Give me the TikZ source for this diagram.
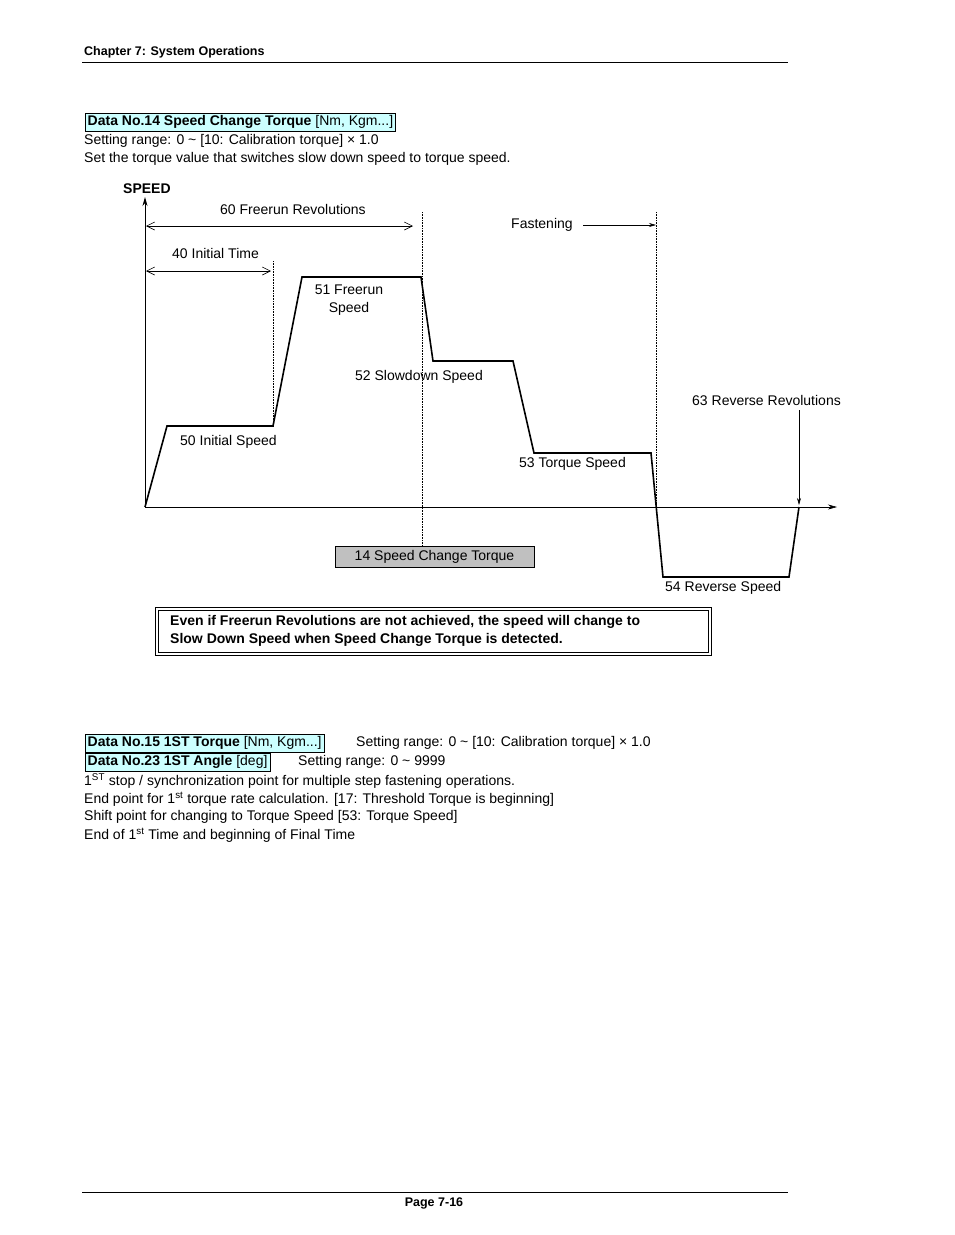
\documentclass[tikz,border=0pt]{standalone}
\usepackage{fontspec}
\setmainfont{Liberation Sans}
\usetikzlibrary{arrows.meta}
\definecolor{cyanbg}{RGB}{204,255,255}
\definecolor{graybg}{RGB}{192,192,192}
\tikzset{
 t/.style={anchor=west,inner sep=0pt,font=\fontsize{14}{16}\selectfont},
 tb/.style={t,font=\fontsize{14}{16}\selectfont\bfseries},
 hd/.style={anchor=west,inner sep=0pt,font=\fontsize{12.5}{14}\selectfont\bfseries},
 databox/.style={draw,fill=cyanbg,anchor=west,inner sep=2.5pt,font=\fontsize{14}{16}\selectfont},
 dot/.style={densely dotted,line width=0.6pt},
 dim/.style={line width=0.6pt,{Straight Barb[length=8pt,width=8pt]}-{Straight Barb[length=8pt,width=8pt]}},
 one/.style={line width=0.6pt,-{Stealth[length=7pt,width=4pt]}},
}
\begin{document}
\begin{tikzpicture}[x=1pt,y=-1pt]
\useasboundingbox (0,0) rectangle (954,1235);
\node[hd] (ch) at (84,52) {Chapter 7: System Operations};
\draw[line width=0.6pt] (82,62) -- (788,62);
\node[databox] (d14) at (85,122) {\textbf{Data No.14 Speed Change Torque} [Nm, Kgm...]};
\node[t] (s1) at (84,141) {Setting range: 0 \textasciitilde{} [10: Calibration torque] × 1.0};
\node[t] (s2) at (84,159) {Set the torque value that switches slow down speed to torque speed.};
% axes
\coordinate (o) at (145,507);
\coordinate (yt) at (145,197);
\coordinate (xt) at (837,507);
\draw[line width=0.8pt,-{Stealth[length=9pt,width=5pt]}] (o) -- (yt);
\draw[line width=0.6pt,-{Stealth[length=9pt,width=5pt]}] (o) -- (xt);
\node[tb] (sp) at (123,189) {SPEED};
% dotted lines
\coordinate (a1) at (273,261); \coordinate (a2) at (273,426);
\coordinate (b1) at (422,212); \coordinate (b2) at (422,545);
\coordinate (c1) at (656,212); \coordinate (c2) at (656,507);
\draw[dot] (a1) -- (a2); \draw[dot] (b1) -- (b2); \draw[dot] (c1) -- (c2);
% profile
\draw[line width=1.6pt,line join=miter] (o) -- (167,426) -- (273,426) -- (302,277) -- (421,277) -- (433,361) -- (513,361) -- (534,453) -- (651,453) -- (663,577) -- (789,577) -- (799,507);
% dimension arrows
\coordinate (f1) at (146,226); \coordinate (f2) at (413,226);
\draw[dim] (f1) -- (f2);
\node[t] (l60) at (220,209) {60 Freerun Revolutions};
\coordinate (i1) at (146,271); \coordinate (i2) at (271,271);
\draw[dim] (i1) -- (i2);
\node[t] (l40) at (172,253) {40 Initial Time};
\coordinate (fa1) at (583,225); \coordinate (fa2) at (656,225);
\node[t] (lf) at (511,225) {Fastening};
\draw[one] (fa1) -- (fa2);
\coordinate (r1) at (799,410); \coordinate (r2) at (799,505);
\node[t] (l63) at (692,400) {63 Reverse Revolutions};
\draw[one] (r1) -- (r2);
\node[t,align=center,anchor=north] (l51) at (349,285) {51 Freerun\\[2pt]Speed};
\node[t] (l52) at (355,377) {52 Slowdown Speed};
\node[t] (l50) at (180,442) {50 Initial Speed};
\node[t] (l53) at (519,464) {53 Torque Speed};
\node[t] (l54) at (665,588) {54 Reverse Speed};
\node[draw,fill=graybg,minimum width=199pt,minimum height=21pt,inner sep=0pt,font=\fontsize{14}{16}\selectfont] (sct) at (434.5,556.5) {14 Speed Change Torque};
\node[draw,double,double distance=2pt,line width=0.6pt,minimum width=553pt,minimum height=45pt,inner sep=0pt] (note) at (433.5,631.5) {};
\node[tb,align=left,font=\fontsize{14}{18}\selectfont\bfseries] (notet) at (170,631) {Even if Freerun Revolutions are not achieved, the speed will change to\\Slow Down Speed when Speed Change Torque is detected.};
% lower part
\node[databox] (d15) at (85,743) {\textbf{Data No.15 1ST Torque} [Nm, Kgm...]};
\node[t] (r15) at (356,743) {Setting range: 0 \textasciitilde{} [10: Calibration torque] × 1.0};
\node[databox] (d23) at (85,762) {\textbf{Data No.23 1ST Angle} [deg]};
\node[t] (r23) at (298,762) {Setting range: 0 \textasciitilde{} 9999};
\node[t] (p1) at (84,781) {1\textsuperscript{ST} stop / synchronization point for multiple step fastening operations.};
\node[t] (p2) at (84,799) {End point for 1\textsuperscript{st} torque rate calculation. [17: Threshold Torque is beginning]};
\node[t] (p3) at (84,817) {Shift point for changing to Torque Speed [53: Torque Speed]};
\node[t] (p4) at (84,835) {End of 1\textsuperscript{st} Time and beginning of Final Time};
\draw[line width=0.6pt] (82,1192) -- (788,1192);
\node[hd,anchor=center] (pg) at (434,1203) {Page 7-16};
\end{tikzpicture}
\end{document}
